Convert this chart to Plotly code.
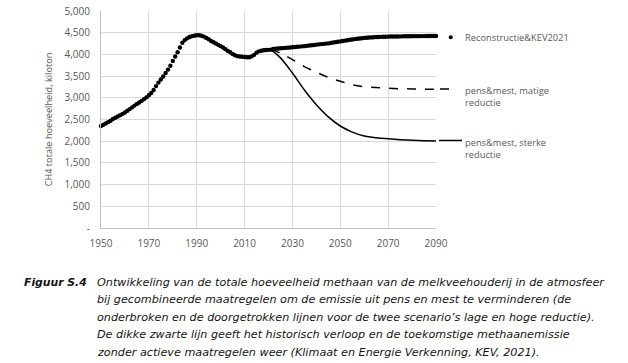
import plotly.graph_objects as go

# ---------------- data ----------------
hist_years = list(range(1950, 2091))
hist_values = [
    # 1950-1959
    2350, 2380, 2410, 2440, 2470, 2510, 2540, 2570, 2600, 2630,
    # 1960-1969
    2660, 2700, 2740, 2780, 2820, 2860, 2890, 2930, 2970, 3010,
    # 1970-1979
    3060, 3110, 3180, 3270, 3350, 3420, 3490, 3570, 3650, 3740,
    # 1980-1989
    3850, 3950, 4050, 4160, 4270, 4330, 4370, 4400, 4420, 4430,
    # 1990-1999
    4440, 4440, 4430, 4410, 4380, 4350, 4310, 4280, 4250, 4220,
    # 2000-2009
    4190, 4160, 4120, 4080, 4050, 4010, 3980, 3960, 3950, 3945,
    # 2010-2019
    3940, 3935, 3935, 3955, 3990, 4040, 4070, 4085, 4095, 4100,
    # 2020-2029
    4105, 4110, 4125, 4130, 4135, 4140, 4145, 4150, 4155, 4160,
    # 2030-2039
    4165, 4170, 4175, 4180, 4185, 4190, 4197, 4204, 4211, 4218,
    # 2040-2049
    4225, 4231, 4237, 4243, 4249, 4255, 4264, 4273, 4282, 4291,
    # 2050-2059
    4300, 4309, 4318, 4327, 4336, 4345, 4352, 4359, 4366, 4373,
    # 2060-2069
    4380, 4384, 4388, 4392, 4396, 4400, 4402, 4404, 4406, 4408,
    # 2070-2079
    4410, 4411, 4412, 4413, 4414, 4415, 4416, 4417, 4418, 4419,
    # 2080-2090
    4420, 4420, 4421, 4421, 4422, 4422, 4423, 4423, 4424, 4424, 4425,
]

scen_years = [2021, 2025, 2030, 2035, 2040, 2045, 2050, 2055, 2060, 2065, 2070, 2075, 2080, 2085, 2090]
moderate_values = [4110, 4030, 3880, 3720, 3590, 3470, 3380, 3300, 3255, 3235, 3220, 3210, 3205, 3200, 3198]
strong_values = [4110, 3920, 3570, 3180, 2840, 2560, 2350, 2210, 2120, 2080, 2055, 2035, 2020, 2010, 2002]

x_ticks = [1950, 1970, 1990, 2010, 2030, 2050, 2070, 2090]
y_ticks = [0, 500, 1000, 1500, 2000, 2500, 3000, 3500, 4000, 4500, 5000]
y_ticktext = ["-", "500", "1,000", "1,500", "2,000", "2,500", "3,000", "3,500", "4,000", "4,500", "5,000"]

names = ["Reconstructie&KEV2021", "pens&mest, matige<br>reductie", "pens&mest, sterke<br>reductie"]

caption_head = "Figuur S.4"
caption_lines = [
    "Ontwikkeling van de totale hoeveelheid methaan van de melkveehouderij in de atmosfeer",
    "bij gecombineerde maatregelen om de emissie uit pens en mest te verminderen (de",
    "onderbroken en de doorgetrokken lijnen voor de twee scenario\u2019s lage en hoge reductie).",
    "De dikke zwarte lijn geeft het historisch verloop en de toekomstige methaanemissie",
    "zonder actieve maatregelen weer (Klimaat en Energie Verkenning, KEV, 2021).",
]

# ---------------- layout geometry (page pixels) ----------------
W, H = 628, 363
L, R, T, B = 101, 436, 11, 228          # plot area


def px(x):
    return (x - L) / (R - L)


def py(y):
    return (B - y) / (B - T)


GRAY_TXT = "#595959"
TICK_FONT = dict(family="Open Sans", size=10, color=GRAY_TXT)

fig = go.Figure()

fig.add_trace(go.Scatter(
    x=scen_years, y=moderate_values, mode="lines", name=names[1],
    line=dict(color="black", width=1.5, dash="dash", shape="spline"),
    cliponaxis=False, showlegend=False))
fig.add_trace(go.Scatter(
    x=scen_years, y=strong_values, mode="lines", name=names[2],
    line=dict(color="black", width=1.5, shape="spline"),
    cliponaxis=False, showlegend=False))
fig.add_trace(go.Scatter(
    x=hist_years, y=hist_values, mode="markers", name=names[0],
    marker=dict(color="black", size=4.4),
    cliponaxis=False, showlegend=False))

# legend samples and texts
shapes = [
    dict(type="circle", xref="paper", yref="paper",
         x0=px(448.7), x1=px(452.7), y0=py(39.3), y1=py(35.3),
         fillcolor="black", line=dict(width=0)),
    dict(type="line", xref="paper", yref="paper",
         x0=px(440), x1=px(458), y0=py(89), y1=py(89),
         line=dict(color="black", width=1.5, dash="dash")),
    dict(type="line", xref="paper", yref="paper",
         x0=px(439), x1=px(462), y0=py(140.5), y1=py(140.5),
         line=dict(color="black", width=1.5)),
]

annotations = []
LEG_FONT = dict(family="Open Sans", size=9.3, color=GRAY_TXT)
for txt, ypix in [(names[0], 37), (names[1], 82.5), (names[2], 134)]:
    annotations.append(dict(text=txt, xref="paper", yref="paper", x=px(463), y=py(ypix),
                            xanchor="left", yanchor="top" if "<br>" in txt else "middle",
                            align="left", showarrow=False, font=LEG_FONT))

CAP_COLOR = "#141414"
annotations.append(dict(text="<b><i>" + caption_head + "</i></b>", xref="paper", yref="paper",
                        x=px(22), y=py(282), xanchor="left", yanchor="middle",
                        showarrow=False,
                        font=dict(family="DejaVu Sans", size=10.8, color=CAP_COLOR)))
CAP_FONT = dict(family="DejaVu Sans", size=11.2, color=CAP_COLOR)
for i, line in enumerate(caption_lines):
    annotations.append(dict(text="<i>" + line + "</i>", xref="paper", yref="paper",
                            x=px(95), y=py(282 + i * 17.6), xanchor="left", yanchor="middle",
                            showarrow=False, font=CAP_FONT))

fig.update_layout(
    width=W, height=H,
    margin=dict(l=L, r=W - R, t=T, b=H - B, pad=0, autoexpand=False),
    plot_bgcolor="white", paper_bgcolor="white",
    shapes=shapes, annotations=annotations,
    xaxis=dict(range=[1950, 2090], tickvals=x_ticks, ticktext=[str(v) for v in x_ticks],
               showgrid=True, gridcolor="#d9d9d9", gridwidth=1,
               showline=True, linecolor="#bfbfbf", linewidth=1,
               zeroline=False, ticks="", tickfont=TICK_FONT, ticklabelstandoff=6),
    yaxis=dict(range=[0, 5000], tickvals=y_ticks, ticktext=y_ticktext,
               showgrid=True, gridcolor="#d9d9d9", gridwidth=1,
               showline=True, linecolor="#bfbfbf", linewidth=1,
               zeroline=False, ticks="", tickfont=TICK_FONT, ticklabelstandoff=8,
               title=dict(text="CH4 totale hoeveelheid, kiloton",
                          font=dict(family="Open Sans", size=9.2, color=GRAY_TXT),
                          standoff=10)),
)

fig.write_html("out.html", config={"displayModeBar": False},
               post_script="document.body.style.margin='0';document.body.style.padding='0';")
